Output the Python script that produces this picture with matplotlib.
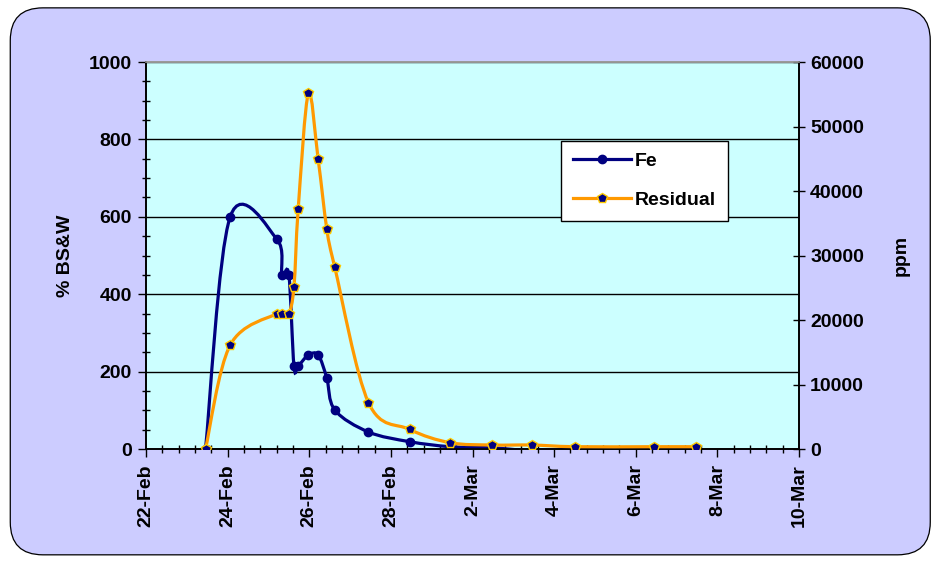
from datetime import datetime

import matplotlib
matplotlib.use("Agg")
import matplotlib.dates as mdates
import matplotlib.pyplot as plt
from matplotlib.lines import Line2D
from matplotlib.patches import FancyBboxPatch, PathPatch
from matplotlib.path import Path
from matplotlib.ticker import FuncFormatter, MultipleLocator

plt.rcParams["font.family"] = ["Liberation Sans", "DejaVu Sans"]
plt.rcParams["font.weight"] = "bold"

# sample times (year is arbitrary)
fe_times = [
    "2005-02-23 11:00", "2005-02-24 01:30", "2005-02-25 05:00", "2005-02-25 08:00",
    "2005-02-25 12:00", "2005-02-25 15:00", "2005-02-25 17:30", "2005-02-25 23:30",
    "2005-02-26 05:15", "2005-02-26 10:20", "2005-02-26 15:00", "2005-02-27 10:50",
    "2005-02-28 11:00", "2005-03-01 10:50", "2005-03-02 11:30", "2005-03-03 11:00",
    "2005-03-04 12:00", "2005-03-06 10:50", "2005-03-07 11:30",
]
fe_values = [0, 600, 542, 450, 450, 215, 215, 243, 243, 183, 101, 44, 19, 6, 3, -4, 0, 0, 0]

res_times = fe_times
res_values = [
    0, 16100, 21000, 21000, 21000, 25100, 37200, 55150, 44900, 34100, 28200, 7200,
    3050, 980, 620, 620, 360, 360, 360,
]

x_start, x_end = datetime(2005, 2, 22), datetime(2005, 3, 10)

FE_COLOR = "#000080"
RES_COLOR = "#FF9900"
RES_EDGE = "#FFCC00"
LW = 2.3
FS = 14


def to_dt(values):
    return [datetime.strptime(v, "%Y-%m-%d %H:%M") for v in values]


def smooth_path(xs, ys):
    # Bezier segments with Catmull-Rom style handles (like a spreadsheet "smoothed line")
    pts = list(zip(xs, ys))
    n = len(pts)
    verts = [pts[0]]
    codes = [Path.MOVETO]
    for i in range(n - 1):
        p0 = pts[i - 1] if i > 0 else pts[i]
        p1 = pts[i]
        p2 = pts[i + 1]
        p3 = pts[i + 2] if i + 2 < n else pts[i + 1]
        c1 = (p1[0] + (p2[0] - p0[0]) / 6, p1[1] + (p2[1] - p0[1]) / 6)
        c2 = (p2[0] - (p3[0] - p1[0]) / 6, p2[1] - (p3[1] - p1[1]) / 6)
        verts += [c1, c2, p2]
        codes += [Path.CURVE4] * 3
    return Path(verts, codes)


def main() -> None:
    fig = plt.figure(figsize=(9.34, 5.61), dpi=100)
    fig.patch.set_facecolor("white")
    fig.patches.append(FancyBboxPatch(
        (0.011, 0.011), 0.985, 0.975, boxstyle="round,pad=0,rounding_size=0.035",
        transform=fig.transFigure, facecolor="#CCCCFF", edgecolor="black",
        linewidth=0.9, mutation_aspect=934 / 561, zorder=-10,
    ))

    ax = fig.add_axes([0.1563, 0.1996, 0.6992, 0.6898])
    ax.set_facecolor("#CCFFFF")
    ax2 = ax.twinx()
    ax.set_zorder(2)
    ax2.set_zorder(3)
    ax.patch.set_visible(True)

    fe_x = mdates.date2num(to_dt(fe_times))
    res_x = mdates.date2num(to_dt(res_times))

    # Fe on the left axis
    ax.plot(fe_x, fe_values, ls="none", marker="o", markersize=6,
            color=FE_COLOR, markeredgecolor=FE_COLOR, zorder=4)
    ax.add_patch(PathPatch(smooth_path(fe_x, fe_values), facecolor="none",
                           edgecolor=FE_COLOR, linewidth=LW, zorder=3))

    # Residual on the right axis
    ax2.add_patch(PathPatch(smooth_path(res_x, res_values), facecolor="none",
                            edgecolor=RES_COLOR, linewidth=LW, zorder=3))
    ax2.plot(res_x, res_values, ls="none", marker="p", markersize=7,
             color=FE_COLOR, markeredgecolor=RES_EDGE, markeredgewidth=1.0, zorder=4)

    ax.set_xlim(mdates.date2num(x_start), mdates.date2num(x_end))
    ax.set_ylim(0, 1000)
    ax2.set_ylim(0, 60000)

    ax.xaxis.set_major_locator(MultipleLocator(2))
    ax.xaxis.set_minor_locator(MultipleLocator(0.4))
    ax.xaxis.set_major_formatter(FuncFormatter(
        lambda v, _: f"{mdates.num2date(v).day}-{mdates.num2date(v).strftime('%b')}"))
    ax.yaxis.set_major_locator(MultipleLocator(200))
    ax.yaxis.set_minor_locator(MultipleLocator(50))
    ax2.yaxis.set_major_locator(MultipleLocator(10000))

    ax.grid(axis="y", which="major", color="black", linewidth=1.0)
    ax.set_axisbelow(True)

    ax.tick_params(axis="x", which="major", direction="out", length=6, width=1,
                   labelsize=FS, labelrotation=90, pad=5)
    ax.tick_params(axis="x", which="minor", direction="inout", length=6, width=1)
    ax.tick_params(axis="y", which="major", direction="out", length=6, width=1,
                   labelsize=FS, pad=4)
    ax.tick_params(axis="y", which="minor", direction="inout", length=6, width=1)
    ax2.tick_params(axis="y", which="major", direction="inout", length=8, width=1,
                    labelsize=FS, pad=4)

    for a in (ax, ax2):
        for side in ("left", "right", "bottom"):
            a.spines[side].set_color("black")
            a.spines[side].set_linewidth(1.2)
        a.spines["top"].set_color("#999999")
        a.spines["top"].set_linewidth(1.2)

    ax.set_ylabel("% BS&W", fontsize=FS, fontweight="bold", labelpad=11)
    ax2.set_ylabel("ppm", fontsize=FS, fontweight="bold", labelpad=21)

    handles = [
        Line2D([], [], color=FE_COLOR, lw=LW, marker="o", markersize=6,
               markeredgecolor=FE_COLOR),
        Line2D([], [], color=RES_COLOR, lw=LW, marker="p", markersize=7,
               markerfacecolor=FE_COLOR, markeredgecolor=RES_EDGE),
    ]
    leg = ax2.legend(handles, ["Fe", "Residual"], loc="upper left",
                     bbox_to_anchor=(0.636, 0.797), frameon=True, fancybox=False,
                     facecolor="white", edgecolor="black", framealpha=1,
                     prop={"size": FS, "weight": "bold"}, handlelength=3.0,
                     handletextpad=0.2, labelspacing=1.1, borderpad=0.6,
                     borderaxespad=0)
    leg.get_frame().set_linewidth(1.0)

    fig.savefig("out.png", dpi=100, facecolor=fig.get_facecolor())


if __name__ == "__main__":
    main()
